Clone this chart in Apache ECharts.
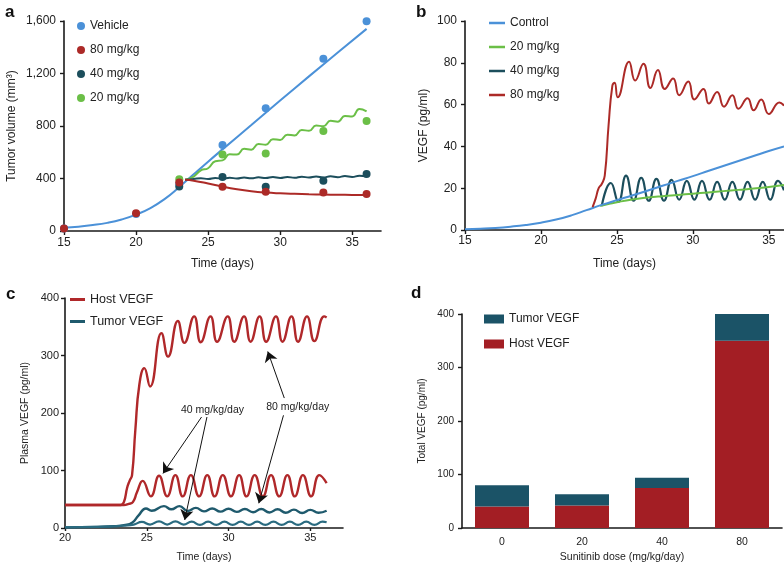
<!DOCTYPE html>
<html>
<head>
<meta charset="utf-8">
<script src="https://cdn.jsdelivr.net/npm/echarts@6/dist/echarts.min.js"></script>
<style>
html,body{margin:0;padding:0;background:#fff}
#chart{width:784px;height:566px}
</style>
</head>
<body>
<div id="chart"></div>
<script>
// ---- a: tumor volume, points and model fits ----
var aXTicks = [15, 20, 25, 30, 35];
var aVehicleDots = [[15, 20], [20, 130], [23, 360], [26, 655], [29, 935], [33, 1313], [36, 1598]];
var a80Dots = [[15, 20], [20, 135], [23, 370], [26, 337], [29, 300], [33, 293], [36, 281]];
var a40Dots = [[23, 340], [26, 412], [29, 337], [33, 383], [36, 434]];
var a20Dots = [[23, 395], [26, 583], [29, 591], [33, 761], [36, 839]];
var aVehicleFit = [[15, 25], [16, 33], [17, 45], [18, 62], [19, 88], [20, 125], [21, 175], [22, 245], [23, 335],
  [24, 432], [25, 528], [26, 622], [28, 808], [30, 994], [32, 1178], [34, 1360], [36, 1540]];
var a80Fit = [[23.4, 390], [24, 383], [25, 362], [26, 338], [27, 318], [28, 303], [29, 293], [30, 287], [31, 283],
  [32, 280], [33, 278], [34, 276], [35, 275], [36, 274]];
var a40Fit = [[23.4, 390], [24, 396], [24.5, 402], [25, 396], [25.5, 404], [26, 398], [26.5, 406], [27, 400], [27.5, 408],
  [28, 401], [28.5, 409], [29, 403], [29.5, 411], [30, 404], [30.5, 412], [31, 405], [31.5, 414], [32, 407], [32.5, 415],
  [33, 408], [33.5, 417], [34, 410], [34.5, 419], [35, 412], [35.5, 421], [36, 418]];
var a20Fit = [[23.4, 390], [24, 415], [24.5, 462], [25, 478], [25.5, 532], [26, 538], [26.5, 584], [27, 583], [27.5, 626],
  [28, 620], [28.5, 662], [29, 658], [29.5, 700], [30, 693], [30.5, 734], [31, 728], [31.5, 770], [32, 763], [32.5, 804],
  [33, 798], [33.5, 840], [34, 833], [34.5, 877], [35, 873], [35.5, 930], [36, 912]];

// ---- b: plasma VEGF by dose ----
var bXTicks = [15, 20, 25, 30, 35];
var bControl = [[15, 0.3], [16, 0.6], [17, 1], [18, 1.6], [19, 2.4], [20, 3.5], [21, 5], [22, 7], [23, 9.5], [24, 12],
  [25, 14.3], [26, 16.5], [27, 18.8], [28, 21.2], [29, 23.5], [30, 25.8], [31, 28.2], [32, 30.6], [33, 33], [34, 35.4],
  [35, 37.8], [36, 40]];
var b20 = [[23.9, 11.5], [24.5, 12.5], [25, 13.3], [26, 14.6], [27, 15.5], [28, 16.2], [29, 16.8], [30, 17.4], [31, 18],
  [32, 18.6], [33, 19.2], [34, 19.8], [35, 20.6], [36, 21.5]];
var b40 = [[24, 11.5], [24.6, 22.5], [25.1, 13.5], [25.6, 26], [26.1, 14], [26.6, 25], [27.1, 14], [27.6, 24.5], [28.1, 14],
  [28.6, 24], [29.1, 14.5], [29.6, 23.5], [30.1, 14.5], [30.6, 23.5], [31.1, 14.5], [31.6, 23], [32.1, 14.5], [32.6, 23],
  [33.1, 14.5], [33.6, 23], [34.1, 14.5], [34.6, 23], [35.1, 14.5], [35.6, 23.5], [36, 19]];
var b80 = [[23.4, 11], [23.6, 15], [23.8, 20], [24, 22], [24.2, 26], [24.45, 50], [24.7, 69], [24.85, 70.5], [25.05, 63.5], [25.8, 80.5],
  [26.2, 71.5], [26.75, 79.5], [27.2, 68], [27.7, 76.5], [28.15, 67.5], [28.7, 72.5], [29.1, 64.5], [29.7, 71], [30.1, 62.5],
  [30.7, 67.5], [31.05, 60.5], [31.6, 66], [32.05, 59], [32.6, 64.5], [33, 58], [33.6, 63], [34, 57.3], [34.5, 62.5],
  [35, 55.5], [35.7, 61], [36, 59.5]];

// ---- c: host vs tumor VEGF ----
var cXTicks = [20, 25, 30, 35];
var cHost80 = [[20, 40], [23.4, 40], [23.6, 45], [23.8, 70], [23.95, 82], [24.1, 92], [24.3, 170], [24.55, 250], [24.85, 278],
  [25.2, 246], [25.9, 339], [26.3, 298], [26.9, 360], [27.3, 322], [27.9, 368], [28.3, 323], [28.9, 368], [29.3, 324],
  [29.95, 368], [30.35, 324], [30.95, 368], [31.35, 324], [31.9, 368], [32.3, 324], [32.9, 368], [33.3, 324], [33.85, 368],
  [34.25, 324], [34.8, 368], [35.25, 325], [35.85, 368], [36, 366]];
var cHost40 = [[20, 40], [23.6, 40], [23.9, 42], [24.15, 45], [24.4, 62], [24.75, 82], [25.25, 55], [25.75, 91], [26.25, 55],
  [26.75, 92], [27.2, 55], [27.7, 92], [28.2, 55], [28.7, 92], [29.15, 55], [29.65, 92], [30.15, 55], [30.65, 92], [31.1, 55],
  [31.6, 92], [32.1, 55], [32.6, 92], [33.1, 55], [33.6, 92], [34.05, 55], [34.55, 92], [35.05, 55], [35.55, 92], [36, 78]];
var cTumor80 = [[20, 1], [22, 2], [23, 3], [23.6, 5], [24.1, 9], [24.5, 22], [24.95, 34], [25.3, 30], [26.05, 38], [26.5, 32.5],
  [27, 38], [27.5, 29.5], [28, 35], [28.5, 29], [29, 34], [29.5, 28.5], [30, 33.5], [30.5, 28], [31, 33], [31.5, 27.5],
  [32, 33], [32.5, 27], [33, 32.5], [33.5, 26.5], [34, 32], [34.5, 26], [35, 31.5], [35.5, 26.5], [36, 30]];
var cTumor40 = [[20, 1], [22, 2], [23, 3], [23.6, 4], [24.2, 6], [24.7, 10.5], [25.2, 6], [25.75, 11.5], [26.25, 6],
  [26.75, 11.5], [27.25, 6], [27.75, 11], [28.25, 5.5], [28.75, 11], [29.25, 5.5], [29.75, 11], [30.25, 5.5], [30.75, 11],
  [31.25, 5.5], [31.75, 11], [32.25, 5.5], [32.75, 11], [33.25, 5.5], [33.75, 11], [34.25, 5.5], [34.75, 11], [35.25, 5.5],
  [35.75, 11], [36, 10]];
// arrows (start, tip) in data units
var cArrows40 = [[[28.35, 193], [25.99, 95]], [[28.68, 193], [27.32, 14]]];
var cArrows80 = [[[33.41, 226], [32.4, 307]], [[33.36, 196], [31.85, 43]]];

// ---- d: total VEGF stacked bars ----
var dDoses = ['0', '20', '40', '80'];
var dHost = [40, 42, 75, 350];
var dTumor = [40, 21, 19, 50];

var BLUE = '#4b91d8', RED = '#ac2a27', TEAL = '#1c4e5c', GREEN = '#6bbf47';
var C_HOST = '#b0282a', C_TUMOR = '#1f5a6d';
var D_HOST = '#a31e24', D_TUMOR = '#1b5367';
var INK = '#1a1a1a';

var chart = echarts.init(document.getElementById('chart'));

function axisBase(extra) {
  var o = {
    axisLine: { show: true, lineStyle: { color: INK, width: 1.6 } },
    axisTick: { length: 4, lineStyle: { color: INK, width: 1.4 } },
    splitLine: { show: false },
    nameLocation: 'middle',
    nameTextStyle: { color: '#222' },
    axisLabel: { color: '#222' }
  };
  for (var k in extra) {
    if (typeof extra[k] === 'object' && o[k] && !Array.isArray(extra[k])) {
      o[k] = Object.assign({}, o[k], extra[k]);
    } else {
      o[k] = extra[k];
    }
  }
  return o;
}

function thousands(v) {
  return v >= 1000 ? Math.floor(v / 1000) + ',' + String(v % 1000).padStart(3, '0') : String(v);
}

function line(name, data, color, xi, width, z) {
  return {
    name: name, type: 'line', xAxisIndex: xi, yAxisIndex: xi, data: data,
    smooth: 0.5, showSymbol: false, z: z || 2,
    lineStyle: { color: color, width: width }, itemStyle: { color: color }
  };
}
function dots(name, data, color) {
  return {
    name: name, type: 'scatter', xAxisIndex: 0, yAxisIndex: 0, data: data,
    symbolSize: 8, z: 5, itemStyle: { color: color, opacity: 1 }
  };
}

function arrows(list) {
  return list.map(function (a) { return [{ coord: a[0] }, { coord: a[1] }]; });
}

var letter = { fontSize: 17, fontWeight: 'bold', color: '#111' };

var option = {
  animation: false,
  textStyle: { fontFamily: 'Liberation Sans, Arial, sans-serif' },
  title: [
    { text: 'a', left: 5, top: 4, padding: 0, textStyle: letter },
    { text: 'b', left: 416, top: 4, padding: 0, textStyle: letter },
    { text: 'c', left: 6, top: 286, padding: 0, textStyle: letter },
    { text: 'd', left: 411, top: 285, padding: 0, textStyle: letter }
  ],
  grid: [
    { left: 64, top: 21, width: 317, height: 210 },
    { left: 465, top: 21, width: 319, height: 209 },
    { left: 65, top: 298, width: 278, height: 230 },
    { left: 462, top: 314, width: 320, height: 214 }
  ],
  legend: [
    {
      left: 77, top: 20, padding: 0, orient: 'vertical', itemWidth: 8, itemHeight: 8, itemGap: 12,
      textStyle: { fontSize: 12, color: '#222' },
      data: [
        { name: 'Vehicle', icon: 'circle' },
        { name: '80 mg/kg', icon: 'circle' },
        { name: '40 mg/kg', icon: 'circle' },
        { name: '20 mg/kg', icon: 'circle' }
      ]
    },
    {
      left: 489, top: 17, padding: 0, orient: 'vertical', itemWidth: 16, itemHeight: 2.5, itemGap: 12,
      textStyle: { fontSize: 12, color: '#222' },
      data: [
        { name: 'Control', icon: 'rect', itemStyle: { color: BLUE } },
        { name: '20 mg/kg', icon: 'rect', itemStyle: { color: GREEN } },
        { name: '40 mg/kg', icon: 'rect', itemStyle: { color: TEAL } },
        { name: '80 mg/kg', icon: 'rect', itemStyle: { color: RED } }
      ]
    },
    {
      left: 70, top: 293, padding: 0, orient: 'vertical', itemWidth: 15, itemHeight: 3, itemGap: 9,
      textStyle: { fontSize: 12.5, color: '#222' },
      data: [
        { name: 'Host VEGF', icon: 'rect', itemStyle: { color: C_HOST } },
        { name: 'Tumor VEGF', icon: 'rect', itemStyle: { color: C_TUMOR } }
      ]
    },
    {
      left: 484, top: 313, padding: 0, orient: 'vertical', itemWidth: 20, itemHeight: 9, itemGap: 13,
      textStyle: { fontSize: 12, color: '#222' },
      data: [
        { name: 'Tumor VEGF', icon: 'rect', itemStyle: { color: D_TUMOR } },
        { name: 'Host VEGF', icon: 'rect', itemStyle: { color: D_HOST } }
      ]
    }
  ],
  xAxis: [
    axisBase({ type: 'value', gridIndex: 0, min: 15, max: 37, name: 'Time (days)', nameGap: 27,
      nameTextStyle: { fontSize: 12 },
      axisTick: { customValues: aXTicks },
      axisLabel: { customValues: aXTicks, fontSize: 12, margin: 6 } }),
    axisBase({ type: 'value', gridIndex: 1, min: 15, max: 36, name: 'Time (days)', nameGap: 28,
      nameTextStyle: { fontSize: 12 },
      axisTick: { customValues: bXTicks },
      axisLabel: { customValues: bXTicks, fontSize: 12, margin: 5 } }),
    axisBase({ type: 'value', gridIndex: 2, min: 20, max: 37, name: 'Time (days)', nameGap: 24,
      nameTextStyle: { fontSize: 10.5 },
      axisTick: { customValues: cXTicks, length: 3 },
      axisLabel: { customValues: cXTicks, fontSize: 11, margin: 4 } }),
    axisBase({ type: 'category', gridIndex: 3, data: dDoses, name: 'Sunitinib dose (mg/kg/day)', nameGap: 24,
      nameTextStyle: { fontSize: 10.5 },
      axisTick: { alignWithLabel: true, length: 3 },
      axisLabel: { fontSize: 10.5, margin: 9 } })
  ],
  yAxis: [
    axisBase({ type: 'value', gridIndex: 0, min: 0, max: 1600, interval: 400, name: 'Tumor volume (mm\u00b3)',
      nameGap: 46, nameTextStyle: { fontSize: 12 },
      axisTick: { show: true },
      axisLabel: { fontSize: 12, margin: 8, formatter: thousands } }),
    axisBase({ type: 'value', gridIndex: 1, min: 0, max: 100, interval: 20, name: 'VEGF (pg/ml)',
      nameGap: 35, nameTextStyle: { fontSize: 12 },
      axisTick: { show: true },
      axisLabel: { fontSize: 12, margin: 8 } }),
    axisBase({ type: 'value', gridIndex: 2, min: 0, max: 400, interval: 100, name: 'Plasma VEGF (pg/ml)',
      nameGap: 34, nameTextStyle: { fontSize: 10.5 },
      axisTick: { show: true },
      axisLabel: { fontSize: 11, margin: 6 } }),
    axisBase({ type: 'value', gridIndex: 3, min: 0, max: 400, interval: 100, name: 'Total VEGF (pg/ml)',
      nameGap: 35, nameTextStyle: { fontSize: 10 },
      axisTick: { show: true },
      axisLabel: { fontSize: 10, margin: 8 } })
  ],
  series: [
    // a
    line('Vehicle fit', aVehicleFit, BLUE, 0, 2),
    line('20 mg/kg fit', a20Fit, GREEN, 0, 2),
    line('40 mg/kg fit', a40Fit, TEAL, 0, 2),
    line('80 mg/kg fit', a80Fit, RED, 0, 2),
    dots('Vehicle', aVehicleDots, BLUE),
    dots('20 mg/kg', a20Dots, GREEN),
    dots('40 mg/kg', a40Dots, TEAL),
    dots('80 mg/kg', a80Dots, RED),
    // b
    line('40 mg/kg', b40, TEAL, 1, 2.2),
    line('20 mg/kg', b20, GREEN, 1, 2),
    line('Control', bControl, BLUE, 1, 2),
    line('80 mg/kg', b80, RED, 1, 2),
    // c
    Object.assign(line('Host VEGF', cHost80, C_HOST, 2, 2.4), {
      markLine: {
        silent: true, symbol: ['none', 'arrow'], symbolSize: 10,
        lineStyle: { color: '#111', width: 1, type: 'solid' }, label: { show: false },
        data: arrows(cArrows40).concat(arrows(cArrows80))
      },
      markPoint: {
        silent: true, symbol: 'rect', symbolSize: 1, itemStyle: { color: 'rgba(0,0,0,0)' },
        label: { show: true, position: 'inside', color: '#222', fontSize: 10.5 },
        data: [
          { coord: [29.02, 205], value: '40 mg/kg/day', label: { formatter: '40 mg/kg/day' } },
          { coord: [34.23, 210], value: '80 mg/kg/day', label: { formatter: '80 mg/kg/day' } }
        ]
      }
    }),
    line('Host VEGF', cHost40, C_HOST, 2, 2.4),
    line('Tumor VEGF', cTumor80, C_TUMOR, 2, 2.4),
    line('Tumor VEGF', cTumor40, '#2a6b80', 2, 2.2),
    // d
    { name: 'Host VEGF', type: 'bar', xAxisIndex: 3, yAxisIndex: 3, stack: 'total', data: dHost,
      barWidth: 54, itemStyle: { color: D_HOST } },
    { name: 'Tumor VEGF', type: 'bar', xAxisIndex: 3, yAxisIndex: 3, stack: 'total', data: dTumor,
      barWidth: 54, itemStyle: { color: D_TUMOR } }
  ]
};

chart.setOption(option);
</script>
</body>
</html>
